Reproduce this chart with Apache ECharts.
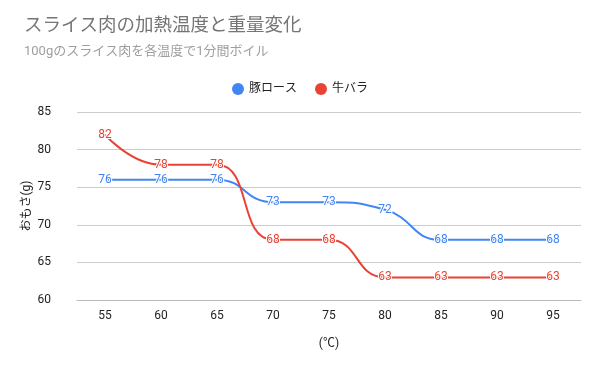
<!DOCTYPE html>
<html><head><meta charset="utf-8">
<script src="https://cdn.jsdelivr.net/npm/echarts@6/dist/echarts.min.js"></script>
<style>html,body{margin:0;padding:0;background:#fff}#c{width:600px;height:371px}</style>
</head><body><div id="c"></div>
<script>
const categories = ['55','60','65','70','75','80','85','90','95'];
const porkLoin = [76,76,76,73,73,72,68,68,68];
const beefBelly = [82,78,78,68,68,63,63,63,63];
const seriesNames = ['豚ロース','牛バラ'];
const FONT = '"Roboto","Noto Sans CJK JP",sans-serif';
const chart = echarts.init(document.getElementById('c'));
function mk(name, data, color){
  return {
    name, type:'line', data, smooth:0.5, symbol:'circle', symbolSize:0.1, showSymbol:true,
    lineStyle:{color, width:2}, itemStyle:{color},
    label:{show:true, position:'inside', color, fontSize:12, fontFamily:FONT,
      textBorderColor:'#fff', textBorderWidth:2},
    emphasis:{disabled:true}
  };
}
chart.setOption({
  animation:false,
  title:{text:'スライス肉の加熱温度と重量変化', subtext:'100gのスライス肉を各温度で1分間ボイル',
    left:19, top:12, itemGap:10,
    textStyle:{color:'#757575', fontSize:18.5, fontWeight:'normal', fontFamily:FONT},
    subtextStyle:{color:'#9e9e9e', fontSize:13, fontFamily:FONT}},
  legend:{top:78, left:'center', icon:'circle', itemWidth:12, itemHeight:12, itemGap:18,
    textStyle:{color:'#222', fontSize:12, fontFamily:FONT}, data:seriesNames},
  grid:{left:77, right:19, top:112, bottom:71},
  xAxis:{type:'category', data:categories, boundaryGap:true,
    name:'(℃)', nameLocation:'middle', nameGap:38,
    nameTextStyle:{color:'#222', fontSize:12, fontFamily:FONT},
    axisLine:{show:true, lineStyle:{color:'#bbb'}}, axisTick:{show:false},
    axisLabel:{color:'#222', fontSize:12, fontFamily:FONT, margin:10}},
  yAxis:{type:'value', min:60, max:85, interval:5,
    name:'おもさ(g)', nameLocation:'middle', nameGap:44, nameMoveOverlap:false,
    nameTextStyle:{color:'#222', fontSize:12, fontFamily:FONT},
    axisLine:{show:false}, axisTick:{show:false},
    splitLine:{lineStyle:{color:'#ccc'}},
    axisLabel:{color:'#222', fontSize:12, fontFamily:FONT, margin:26}},
  series:[mk(seriesNames[0], porkLoin, '#4285f4'), mk(seriesNames[1], beefBelly, '#ea4335')]
});
</script></body></html>
